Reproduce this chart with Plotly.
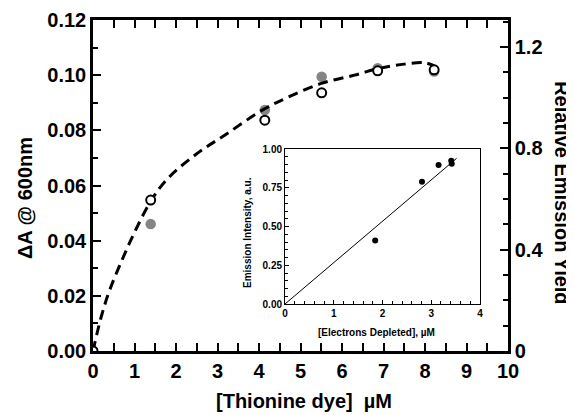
import plotly.graph_objects as go

# ---- main data ----
dye_conc = [0.0, 1.39, 4.14, 5.51, 6.86, 8.22]
delta_a = [0.000, 0.046, 0.0874, 0.0994, 0.1025, 0.1013]          # filled grey (left axis)
emission_yield = [0.0, 0.596, 0.911, 1.019, 1.106, 1.110]          # open circles (right axis)

fit_x = [0.0, 0.2, 0.4, 0.7, 1.0, 1.4, 1.8, 2.5, 3.2, 4.1, 4.7, 5.5, 6.3, 6.9, 7.5, 8.0, 8.3]
fit_y = [0.000, 0.0125, 0.022, 0.033, 0.043, 0.0545, 0.0625, 0.0715, 0.0785, 0.0875,
         0.0920, 0.0970, 0.1000, 0.1025, 0.1040, 0.1045, 0.1027]

# ---- inset data ----
electrons = [1.85, 2.81, 3.15, 3.41, 3.42]
intensity = [0.41, 0.789, 0.897, 0.925, 0.905]
inset_fit_x = [0.0, 3.52]
inset_fit_y = [0.0, 0.94]

x_ticks = list(range(0, 11))
left_ticks = [0.00, 0.02, 0.04, 0.06, 0.08, 0.10, 0.12]
right_ticks = [0, 0.4, 0.8, 1.2]
right_labels = ["0", "0.4", "0.8", "1.2"]
inset_x_ticks = [0, 1, 2, 3, 4]
inset_y_ticks = [0.00, 0.25, 0.50, 0.75, 1.00]

FONT = "Liberation Sans, Arial, sans-serif"
big = dict(family=FONT, size=20, color="black", weight="bold")
small = dict(family=FONT, size=10, color="black", weight="bold")

fig = go.Figure()

fig.add_trace(go.Scatter(x=dye_conc, y=delta_a, mode="markers",
                         marker=dict(size=10.5, color="#858585", line=dict(width=0)),
                         xaxis="x", yaxis="y", showlegend=False))
fig.add_trace(go.Scatter(x=fit_x, y=fit_y, mode="lines", line_shape="spline",
                         line=dict(color="black", width=3, dash="10px,6px"),
                         xaxis="x", yaxis="y", showlegend=False))
fig.add_trace(go.Scatter(x=dye_conc, y=emission_yield, mode="markers",
                         marker=dict(size=9, color="white", line=dict(width=2, color="black")),
                         xaxis="x", yaxis="y2", showlegend=False))

fig.add_trace(go.Scatter(x=inset_fit_x, y=inset_fit_y, mode="lines",
                         line=dict(color="black", width=1),
                         xaxis="x3", yaxis="y3", showlegend=False))
fig.add_trace(go.Scatter(x=electrons, y=intensity, mode="markers",
                         marker=dict(size=6, color="black"),
                         xaxis="x3", yaxis="y3", showlegend=False))

axis_common = dict(showline=True, linecolor="black", ticks="inside",
                   tickcolor="black", showgrid=False, zeroline=False)

# the page body has an 8px default margin, so the figure is offset by 8px
fig.update_layout(
    width=566, height=407,
    margin=dict(l=85, r=66, t=12, b=64, autoexpand=False),
    paper_bgcolor="white", plot_bgcolor="white",
    xaxis=dict(**axis_common, range=[0, 10], tickvals=x_ticks, linewidth=2.5,
               ticklen=8, tickwidth=2, mirror="allticks", tickfont=big,
               minor=dict(dtick=0.5, ticklen=5, tickwidth=2, ticks="inside", tickcolor="black"),
               domain=[0, 1]),
    yaxis=dict(**axis_common, range=[0, 0.12], tickvals=left_ticks, tickformat=".2f",
               linewidth=2.5, ticklen=8, tickwidth=2, mirror=True, tickfont=big,
               minor=dict(dtick=0.01, ticklen=5, tickwidth=2, ticks="inside", tickcolor="black")),
    yaxis2=dict(**axis_common, overlaying="y", side="right", range=[0, 1.3066],
                tickvals=right_ticks, ticktext=right_labels, linewidth=2.5,
                ticklen=8, tickwidth=2, tickfont=big,
                minor=dict(dtick=0.1, ticklen=5, tickwidth=2, ticks="inside", tickcolor="black")),
    xaxis3=dict(**axis_common, anchor="y3", domain=[0.4627, 0.9325], range=[0, 4],
                tickvals=inset_x_ticks, linewidth=1, ticklen=4, tickwidth=1, mirror=True,
                tickfont=small,
                minor=dict(dtick=0.2, ticklen=2.5, tickwidth=1, ticks="inside", tickcolor="black")),
    yaxis3=dict(**axis_common, anchor="x3", domain=[0.142, 0.610], range=[0, 1],
                tickvals=inset_y_ticks, tickformat=".2f", linewidth=1, ticklen=4,
                tickwidth=1, mirror=True, tickfont=small,
                minor=dict(dtick=0.05, ticklen=2.5, tickwidth=1, ticks="inside", tickcolor="black")),
    annotations=[
        dict(text="ΔA @ 600nm", xref="paper", yref="paper", x=-0.1639, y=0.462,
             textangle=-90, showarrow=False, font=big, xanchor="center", yanchor="middle"),
        dict(text="[Thionine dye]\u00a0\u00a0µM", xref="paper", yref="paper", x=0.508, y=-0.150,
             showarrow=False, font=big, xanchor="center", yanchor="middle"),
        dict(text="Relative Emission Yield", xref="paper", yref="paper", x=1.130, y=0.477,
             textangle=90, showarrow=False, font=big, xanchor="center", yanchor="middle"),
        dict(text="[Electrons Depleted], µM", xref="paper", yref="paper", x=0.683, y=0.0544,
             showarrow=False, font=small, xanchor="center", yanchor="middle"),
        dict(text="Emission Intensity, a.u.", xref="paper", yref="paper", x=0.371, y=0.3595,
             textangle=-90, showarrow=False, font=small, xanchor="center", yanchor="middle"),
    ],
)

fig.write_html("out.html")
